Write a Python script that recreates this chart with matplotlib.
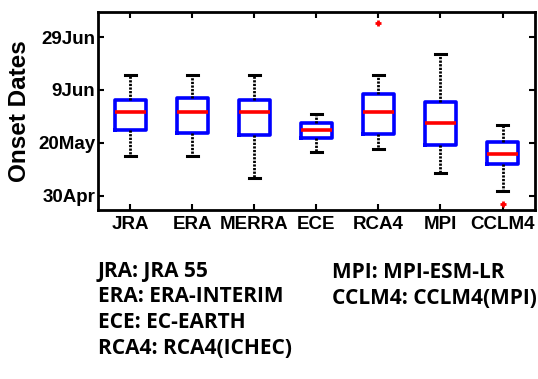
import matplotlib as mpl
import matplotlib.pyplot as plt
import numpy as np

mpl.rcParams["font.family"] = ["Liberation Sans", "DejaVu Sans"]

# onset dates as day of year (30Apr = 120, 20May = 140, 9Jun = 160, 29Jun = 180)
names = ["JRA", "ERA", "MERRA", "ECE", "RCA4", "MPI", "CCLM4"]
whislo = [135.0, 135.0, 126.9, 136.6, 137.7, 128.7, 121.8]
q1 = [145.0, 143.8, 142.9, 142.0, 143.5, 139.1, 132.0]
med = [151.8, 151.8, 151.8, 144.8, 151.8, 147.7, 135.7]
q3 = [156.3, 156.9, 156.2, 147.7, 158.5, 155.5, 140.3]
whishi = [165.7, 165.7, 165.7, 150.8, 165.7, 173.7, 146.8]
fliers = [[], [], [], [], [185.4], [], [116.9]]

ytick_vals = [120, 140, 160, 180]
ytick_labels = ["30Apr", "20May", "9Jun", "29Jun"]

legend_left = ["JRA: JRA 55", "ERA: ERA-INTERIM", "ECE: EC-EARTH", "RCA4: RCA4(ICHEC)"]
legend_right = ["MPI: MPI-ESM-LR", "CCLM4: CCLM4(MPI)"]

stats = []
for i, n in enumerate(names):
    stats.append(
        dict(label=n, whislo=whislo[i], q1=q1[i], med=med[i], q3=q3[i],
             whishi=whishi[i], fliers=fliers[i])
    )

f = plt.figure(figsize=(5.38, 3.79), dpi=100)
ax = f.add_axes([0.182, 0.446, 0.812, 0.522])

ax.bxp(
    stats,
    positions=np.arange(1, len(names) + 1),
    widths=0.5,
    boxprops=dict(color="#0000ff", linewidth=2.6),
    medianprops=dict(color="#ff0000", linewidth=2.6),
    whiskerprops=dict(color="k", linewidth=2.0, linestyle=(0, (0.8, 0.5))),
    capprops=dict(color="k", linewidth=2.2),
    capwidths=0.18,
    flierprops=dict(marker="+", markeredgecolor="#ff0000", markersize=4,
                    markeredgewidth=2),
)

ax.set_xlim(0.48, 7.52)
ax.set_ylim(114.7, 189.4)
ax.set_yticks(ytick_vals)
ax.set_yticklabels(ytick_labels)
ax.set_xticklabels(names)

for lab in ax.get_xticklabels() + ax.get_yticklabels():
    lab.set_fontweight("bold")
    lab.set_fontsize(13.5)

ax.set_ylabel("Onset Dates", fontsize=17.5, fontweight="bold", labelpad=5)

ax.tick_params(axis="both", direction="in", length=4, width=1.5,
               top=True, right=True)
ax.tick_params(axis="x", pad=4)
ax.tick_params(axis="y", pad=2)
for s in ax.spines.values():
    s.set_linewidth(2)

for i, t in enumerate(legend_left):
    f.text(98 / 538, 1 - (271 + i * 25.7) / 379, t, fontsize=15,
           fontweight="bold", family="Open Sans", va="center", ha="left")
for i, t in enumerate(legend_right):
    f.text(332 / 538, 1 - (273 + i * 26) / 379, t, fontsize=15,
           fontweight="bold", family="Open Sans", va="center", ha="left")

plt.savefig("out.png", facecolor="w", dpi=100)
